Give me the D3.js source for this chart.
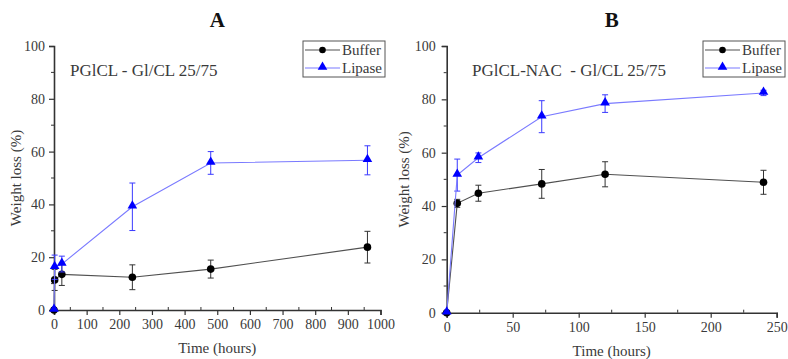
<!DOCTYPE html>
<html>
<head>
<meta charset="utf-8">
<script src="https://cdn.jsdelivr.net/npm/d3@7"></script>
<style>
  html, body { margin: 0; padding: 0; background: #fff; }
  svg { display: block; }
  svg text { font-family: "Liberation Serif", "Times New Roman", Times, serif !important; }
</style>
</head>
<body>
<svg id="chart" width="788" height="359"></svg>
<script>
// Panel A: PGlCL - Gl/CL 25/75
const timesA = [0, 2, 24, 240, 480, 960];
const bufferA = [0, 11.4, 13.5, 12.4, 15.5, 23.8];
const bufferErrA = [0, 4, 4.2, 4.7, 3.4, 6];
const lipaseA = [0, 16.2, 17.4, 39.1, 55.7, 56.7];
const lipaseErrA = [0, 4.6, 3, 9, 4.3, 5.5];
const xTicksA = [0, 100, 200, 300, 400, 500, 600, 700, 800, 900, 1000];

// Panel B: PGlCL-NAC - Gl/CL 25/75
const timesB = [0, 8, 24, 72, 120, 240];
const bufferB = [0, 41, 44.8, 48.3, 51.9, 48.9];
const bufferErrB = [0, 1.5, 3, 5.4, 4.7, 4.5];
const lipaseB = [0, 51.6, 58.1, 73.5, 78.4, 82.4];
const lipaseErrB = [0, 6, 1.8, 6, 3.3, 1];
const xTicksB = [0, 50, 100, 150, 200, 250];

const yTicks = [0, 20, 40, 60, 80, 100];
const seriesNames = ["Buffer", "Lipase"];

const FONT = "'Liberation Serif', 'Times New Roman', serif";
const svg = d3.select("#chart").attr("font-family", FONT);

const AXIS = "#333";
const TEXT = "#3a3a3a";

function drawPanel(cfg) {
  const x = d3.scaleLinear().domain(cfg.xDomain).range(cfg.xRange);
  const y = d3.scaleLinear().domain([0, 100]).range(cfg.yRange);
  const g = svg.append("g");

  // Minor ticks
  const xMinor = d3.range(cfg.xDomain[0] + cfg.xStep / 2, cfg.xDomain[1], cfg.xStep);
  g.selectAll(".xminor").data(xMinor).join("line")
    .attr("x1", d => x(d)).attr("x2", d => x(d))
    .attr("y1", y(0)).attr("y2", y(0) - 3)
    .attr("stroke", AXIS).attr("stroke-width", 1);
  const yMinor = d3.range(10, 100, 20);
  g.selectAll(".yminor").data(yMinor).join("line")
    .attr("x1", x(0)).attr("x2", x(0) - 3)
    .attr("y1", d => y(d)).attr("y2", d => y(d))
    .attr("stroke", AXIS).attr("stroke-width", 1);

  // Axes
  const xAxis = g.append("g").attr("transform", `translate(0,${y(0)})`)
    .call(d3.axisBottom(x).tickValues(cfg.xTicks).tickFormat(d3.format("d"))
      .tickSizeOuter(0).tickSize(5).tickPadding(4));
  const yAxis = g.append("g").attr("transform", `translate(${x(0)},0)`)
    .call(d3.axisLeft(y).tickValues(yTicks).tickFormat(d3.format("d"))
      .tickSizeOuter(0).tickSize(5).tickPadding(cfg.yPad));
  [xAxis, yAxis].forEach(a => {
    a.attr("font-family", FONT).attr("font-size", 14);
    a.select(".domain").attr("stroke", AXIS).attr("stroke-width", 1.6);
    a.selectAll(".tick line").attr("stroke", AXIS).attr("stroke-width", 1.2);
    a.selectAll(".tick text").attr("fill", TEXT);
  });

  // Axis titles
  g.append("text")
    .attr("transform", `translate(${cfg.yLabelX},${(y(0) + y(100)) / 2}) rotate(-90)`)
    .attr("text-anchor", "middle").attr("fill", TEXT).attr("font-size", 15)
    .text("Weight loss (%)");
  g.append("text")
    .attr("x", (x.range()[0] + x.range()[1]) / 2).attr("y", cfg.xLabelY)
    .attr("text-anchor", "middle").attr("fill", TEXT).attr("font-size", 15)
    .text("Time (hours)");

  // Panel letter and subtitle
  g.append("text")
    .attr("x", (x.range()[0] + x.range()[1]) / 2).attr("y", 27)
    .attr("text-anchor", "middle").attr("fill", "#111")
    .attr("font-size", 21).attr("font-weight", "bold")
    .text(cfg.letter);
  g.append("text")
    .attr("x", cfg.subX).attr("y", 76)
    .attr("fill", TEXT).attr("font-size", 17)
    .attr("xml:space", "preserve").style("white-space", "pre")
    .text(cfg.subtitle);

  const series = [
    { name: seriesNames[0], t: cfg.times, v: cfg.buffer, e: cfg.bufferErr,
      line: "#505050", mark: "#000", err: "#333", shape: "circle" },
    { name: seriesNames[1], t: cfg.times, v: cfg.lipase, e: cfg.lipaseErr,
      line: "#7a7aff", mark: "#0000ff", err: "#3a3aff", shape: "triangle" }
  ];

  const line = d3.line().x(d => x(d[0])).y(d => y(d[1]));
  const tri = d3.symbol().type(d3.symbolTriangle).size(40);

  series.forEach(s => {
    const pts = s.t.map((t, i) => [t, s.v[i], s.e[i]]);
    // error bars
    const eb = g.append("g");
    pts.filter(p => p[2] > 0).forEach(p => {
      const cx = x(p[0]), top = y(p[1] + p[2]), bot = y(p[1] - p[2]);
      eb.append("line").attr("x1", cx).attr("x2", cx).attr("y1", top).attr("y2", bot)
        .attr("stroke", s.err).attr("stroke-width", 1);
      [top, bot].forEach(yy => eb.append("line")
        .attr("x1", cx - 3).attr("x2", cx + 3).attr("y1", yy).attr("y2", yy)
        .attr("stroke", s.err).attr("stroke-width", 1));
    });
    g.append("path").datum(pts).attr("d", line)
      .attr("fill", "none").attr("stroke", s.line).attr("stroke-width", 1.1);
    if (s.shape === "circle") {
      g.selectAll(null).data(pts).join("circle")
        .attr("cx", d => x(d[0])).attr("cy", d => y(d[1])).attr("r", 3.8)
        .attr("fill", s.mark);
    } else {
      g.selectAll(null).data(pts).join("path")
        .attr("d", tri).attr("transform", d => `translate(${x(d[0])},${y(d[1]) - 1})`)
        .attr("fill", s.mark);
    }
  });

  // Legend
  const lg = g.append("g").attr("transform", `translate(${cfg.legend[0]},${cfg.legend[1]})`);
  lg.append("rect").attr("x", 0).attr("y", 0).attr("width", 82).attr("height", 36)
    .attr("fill", "#fff").attr("stroke", "#555").attr("stroke-width", 1);
  series.forEach((s, i) => {
    const yy = 9 + i * 18;
    lg.append("line").attr("x1", 2).attr("x2", 37).attr("y1", yy).attr("y2", yy)
      .attr("stroke", s.line).attr("stroke-width", 1.1);
    if (s.shape === "circle") {
      lg.append("circle").attr("cx", 19.5).attr("cy", yy).attr("r", 3.3).attr("fill", s.mark);
    } else {
      lg.append("path").attr("d", tri).attr("transform", `translate(19.5,${yy - 1})`).attr("fill", s.mark);
    }
    lg.append("text").attr("x", 39).attr("y", yy + 5).attr("fill", TEXT)
      .attr("font-size", 15).text(s.name);
  });
}

drawPanel({
  letter: "A", subtitle: "PGlCL - Gl/CL 25/75", subX: 70,
  xDomain: [0, 1000], xRange: [54, 380.5], yRange: [310, 46], xStep: 100,
  xTicks: xTicksA, yPad: 4, yLabelX: 21, xLabelY: 353,
  times: timesA, buffer: bufferA, bufferErr: bufferErrA, lipase: lipaseA, lipaseErr: lipaseErrA,
  legend: [303, 41]
});

drawPanel({
  letter: "B", subtitle: "PGlCL-NAC  - Gl/CL 25/75", subX: 472,
  xDomain: [0, 250], xRange: [446.7, 776.7], yRange: [312.7, 46], xStep: 50,
  xTicks: xTicksB, yPad: 6, yLabelX: 409, xLabelY: 356,
  times: timesB, buffer: bufferB, bufferErr: bufferErrB, lipase: lipaseB, lipaseErr: lipaseErrB,
  legend: [703, 41]
});
</script>
</body>
</html>
